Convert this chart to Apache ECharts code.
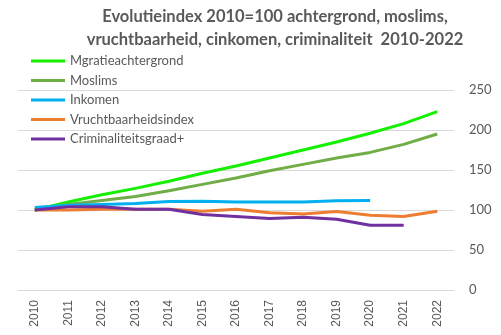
<!DOCTYPE html>
<html>
<head>
<meta charset="utf-8">
<script src="https://cdn.jsdelivr.net/npm/echarts@6/dist/echarts.min.js"></script>
<style>html,body{margin:0;padding:0;background:#fff;}#c{width:501px;height:335px;}</style>
</head>
<body>
<div id="c"></div>
<script>
const years = ['2010','2011','2012','2013','2014','2015','2016','2017','2018','2019','2020','2021','2022'];
const migratie = [100, 110, 119, 127, 136, 146, 155, 165, 175, 185, 196, 208, 223];
const moslims = [100, 107, 112, 117, 124, 132, 140, 149, 157, 165, 172, 182, 195];
const inkomen = [103, 106, 107, 108, 110.5, 111, 110, 110, 110, 111.5, 112];
const vruchtbaarheid = [100, 100, 101, 101, 101, 98.5, 101, 96.5, 95, 98, 93.5, 92, 98.5];
const criminaliteit = [100, 104, 104, 101, 101, 94.5, 92, 89.5, 91, 88.5, 81, 81];
const yTicks = [0, 50, 100, 150, 200, 250];

const names = ['Mgratieachtergrond','Moslims','Inkomen','Vruchtbaarheidsindex','Criminaliteitsgraad+'];
const colors = ['#14f000','#70ad47','#00b0f0','#ed7d31','#7030a0'];
const datas = [migratie, moslims, inkomen, vruchtbaarheid, criminaliteit];

const chart = echarts.init(document.getElementById('c'), null, {renderer:'canvas'});
chart.setOption({
  animation: false,
  backgroundColor: '#fff',
  title: {
    text: 'Evolutieindex 2010=100 achtergrond, moslims,\nvruchtbaarheid, cinkomen, criminaliteit  2010-2022',
    left: 275, top: 5, textAlign: 'center', padding: 0,
    textStyle: {fontFamily: 'Lato', fontWeight: 'bold', fontSize: 16.5, color: '#595959', lineHeight: 23}
  },
  legend: {
    orient: 'vertical', left: 26, top: 49, itemGap: 5.5,
    itemWidth: 34, itemHeight: 3, icon: 'rect',
    textStyle: {fontFamily: 'Lato', fontSize: 13, color: '#595959', lineHeight: 14},
    data: names
  },
  grid: {left: 18, right: 47, top: 90, bottom: 45},
  xAxis: {
    type: 'category', data: years, boundaryGap: true,
    axisLine: {show: true, lineStyle: {color: '#d9d9d9'}},
    axisTick: {show: false},
    axisLabel: {rotate: 90, margin: 10, fontFamily: 'Liberation Sans', fontSize: 12, color: '#595959'}
  },
  yAxis: {
    type: 'value', position: 'right', min: yTicks[0], max: yTicks[yTicks.length-1], interval: 50,
    axisLine: {show: false}, axisTick: {show: false},
    splitLine: {lineStyle: {color: '#d9d9d9', width: 1}},
    axisLabel: {margin: 15, fontFamily: 'Lato', fontSize: 13, color: '#595959'}
  },
  series: names.map((n, i) => ({
    name: n, type: 'line', data: datas[i], showSymbol: false, symbol: 'none',
    lineStyle: {color: colors[i], width: 3}, itemStyle: {color: colors[i]}
  }))
});
</script>
</body>
</html>
